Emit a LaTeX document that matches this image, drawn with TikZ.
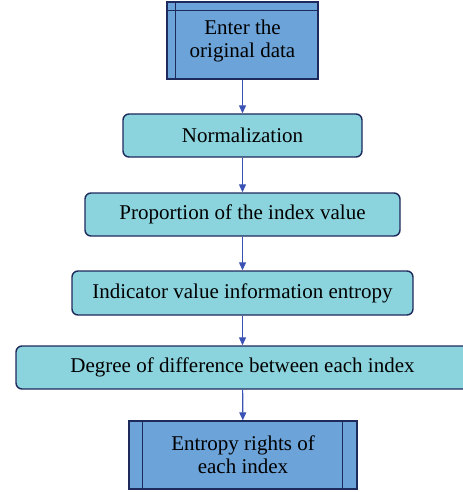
\documentclass[tikz,border=0pt]{standalone}
\usepackage{fontspec}
\setmainfont{Liberation Serif}
\usepackage{xcolor}
\usetikzlibrary{arrows.meta}

\definecolor{boxblue}{HTML}{6CA3D8}
\definecolor{boxcyan}{HTML}{8BD4DE}
\definecolor{boxline}{HTML}{1E2A5C}
\definecolor{arrowblue}{HTML}{3A52B4}

\begin{document}
\begin{tikzpicture}[x=0.5pt,y=-0.5pt,
		procbox/.style={shape=rectangle,draw=boxline,fill=boxcyan,line width=0.7pt,rounded corners=3pt,inner sep=0pt,minimum height=21.5pt,font=\fontsize{10.5}{12}\selectfont},
		iobox/.style={shape=rectangle,draw=boxline,fill=boxblue,line width=0.7pt,inner sep=0pt,align=center,font=\fontsize{10.5}{11.5}\selectfont},
		flow/.style={->,>={Triangle[length=4pt,width=3.5pt]},line width=0.6pt,arrowblue}]
			\useasboundingbox (0,0) rectangle (462,492);

			\node[iobox, minimum width=75.5pt, minimum height=38.5pt] (enter) at (242.5,40.5) {Enter the\\original data};
			\node[procbox, minimum width=119.5pt] (norm) at (242.5,135.5) {Normalization};
			\node[procbox, minimum width=157.5pt] (prop) at (242.5,214.5) {Proportion of the index value};
			\node[procbox, minimum width=170.5pt, minimum height=22pt] (indic) at (242.5,293) {Indicator value information entropy};
			\node[procbox, minimum width=226.5pt] (degree) at (242.5,367.5) {Degree of difference between each index};
			\node[iobox, minimum width=114pt, minimum height=34pt] (weight) at (243,455) {Entropy rights of\\each index};

			%% inner bars
			\draw[boxline, line width=0.7pt] ([xshift=4.5pt]enter.north west) -- ([xshift=4.5pt]enter.south west);
			\draw[boxline, line width=0.7pt] ([yshift=-4.5pt]enter.north west) -- ([yshift=-4.5pt]enter.north east);
			\draw[boxline, line width=0.7pt] ([xshift=7pt]weight.north west) -- ([xshift=7pt]weight.south west);
			\draw[boxline, line width=0.7pt] ([xshift=-7.5pt]weight.north east) -- ([xshift=-7.5pt]weight.south east);

			%% arrows
			\draw[flow] (enter) -- (norm);
			\draw[flow] (norm) -- (prop);
			\draw[flow] (prop) -- (indic);
			\draw[flow] (indic) -- (degree);
			\draw[flow] (degree) -- (weight);
		\end{tikzpicture}
\end{document}
